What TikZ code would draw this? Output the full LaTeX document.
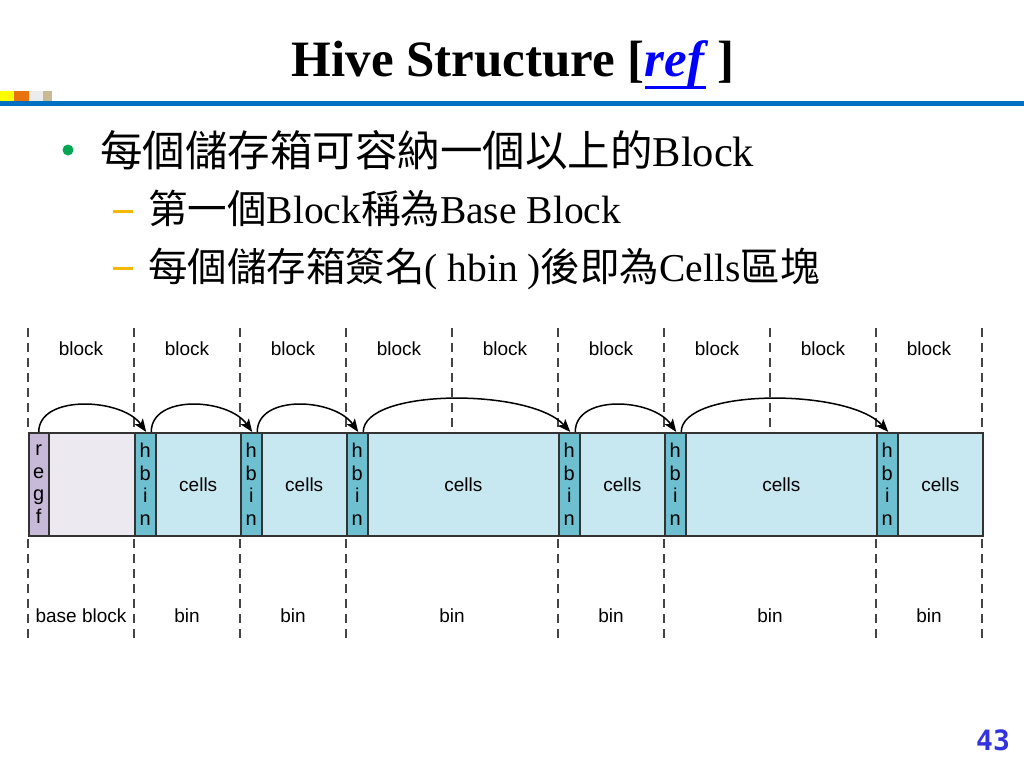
\documentclass[tikz,border=0pt]{standalone}
\usepackage{fontspec}
\setmainfont{Liberation Serif}
\newfontfamily\cjk{Noto Sans CJK TC}
\newfontfamily\dsans{Liberation Sans}
\newfontfamily\pmono{DejaVu Sans Mono}
\usetikzlibrary{arrows.meta}
\definecolor{rulebl}{HTML}{0070C0}
\definecolor{linkbl}{HTML}{0000FF}
\definecolor{sqyel}{HTML}{FFFF00}
\definecolor{sqorg}{HTML}{E8720C}
\definecolor{sqgry}{HTML}{ECECEC}
\definecolor{sqtan}{HTML}{C6BB92}
\definecolor{bulgrn}{HTML}{00A651}
\definecolor{dashor}{HTML}{F5B800}
\definecolor{pgblue}{HTML}{3333DD}
\definecolor{regfc}{HTML}{C6BAD8}
\definecolor{basec}{HTML}{ECE9F1}
\definecolor{hbinc}{HTML}{6EBFD0}
\definecolor{cellc}{HTML}{C8E8F1}
\definecolor{outl}{HTML}{333333}
\definecolor{dashc}{HTML}{444444}
\begin{document}
\begin{tikzpicture}[x=1pt,y=-1pt,
  part/.style={draw=outl, line width=1.5pt, anchor=north west, minimum height=103pt,
    inner sep=0pt, font=\dsans\fontsize{20}{22.5}\selectfont, align=center},
  regfbox/.style={part, fill=regfc, minimum width=20pt},
  basebox/.style={part, fill=basec},
  hbinbox/.style={part, fill=hbinc, minimum width=21pt},
  cellbox/.style={part, fill=cellc, font=\dsans\fontsize{19}{22.5}\selectfont},
  lbl/.style={font=\dsans\fontsize{19}{22}\selectfont, inner sep=0pt},
  sep/.style={draw=dashc, line width=1.7pt, dash pattern=on 9pt off 6pt},
  arc/.style={draw=black, line width=1.5pt, -{Stealth[length=13pt,width=10pt,inset=3pt]}}
]
\useasboundingbox (0,0) rectangle (1024,768);
\fill[white] (0,0) rectangle (1024,768);

% header decoration
\fill[sqyel] (0,91) rectangle (14,101);
\fill[sqorg] (14,91) rectangle (29,101);
\fill[sqgry] (29,91) rectangle (43,101);
\fill[sqtan] (43,91) rectangle (52,101);
\fill[rulebl] (0,101) rectangle (1024,105.5);

% title
\node[anchor=base, inner sep=0pt] (title) at (513,77)
  {\fontsize{51}{55}\selectfont\bfseries Hive Structure [\textcolor{linkbl}{\itshape ref}\hspace{0.25em}]};
\fill[linkbl] (645,86) rectangle (706,88.5);

% bullets
\fill[bulgrn] (68,150) circle (5.5);
\node[anchor=base west, inner sep=0pt] (l1) at (100,166)
  {\fontsize{42.5}{46}\selectfont{\cjk 每個儲存箱可容納一個以上的}Block};
\fill[dashor] (113,209.5) rectangle (133,212.5);
\node[anchor=base west, inner sep=0pt] (l2) at (148,223)
  {\fontsize{39.5}{42}\selectfont{\cjk 第一個}Block{\cjk 稱為}Base Block};
\fill[dashor] (113,266.5) rectangle (133,269.5);
\node[anchor=base west, inner sep=0pt] (l3) at (148,281)
  {\fontsize{39.5}{42}\selectfont{\cjk 每個儲存箱簽名}( hbin ){\cjk 後即為}Cells{\cjk 區塊}};

% page number
\node[inner sep=0pt, text=pgblue] (pg) at (993,740) {\pmono\bfseries\fontsize{28}{30}\selectfont 43};

% bar
\node[regfbox] (regf) at (28,432) {r\\e\\g\\f};
\node[basebox, minimum width=86pt] (base) at (48,432) {};
\node[hbinbox] (hb1) at (134,432) {h\\b\\i\\n};
\node[cellbox, minimum width=85pt] (c1) at (155,432) {cells};
\node[hbinbox] (hb2) at (240,432) {h\\b\\i\\n};
\node[cellbox, minimum width=85pt] (c2) at (261,432) {cells};
\node[hbinbox] (hb3) at (346,432) {h\\b\\i\\n};
\node[cellbox, minimum width=191pt] (c3) at (367,432) {cells};
\node[hbinbox] (hb4) at (558,432) {h\\b\\i\\n};
\node[cellbox, minimum width=85pt] (c4) at (579,432) {cells};
\node[hbinbox] (hb5) at (664,432) {h\\b\\i\\n};
\node[cellbox, minimum width=191pt] (c5) at (685,432) {cells};
\node[hbinbox] (hb6) at (876,432) {h\\b\\i\\n};
\node[cellbox, minimum width=85pt] (c6) at (897,432) {cells};

% dashed separators above the bar (block boundaries)
\foreach \i in {0,...,9}{
  \coordinate (dt\i) at (28+106*\i,328);
  \draw[sep] (dt\i) -- (dt\i |- regf.north);
}
% dashed separators below the bar (bin boundaries)
\foreach \i in {0,1,2,3,5,6,8,9}{
  \coordinate (db\i) at (28+106*\i,638);
  \draw[sep] (db\i) -- (db\i |- regf.south);
}

% block labels
\foreach \i in {0,...,8}{
  \node[lbl] (bk\i) at (81+106*\i,349) {block};
}

% bottom labels
\node[lbl] (bb0) at (81,616) {base block};
\node[lbl] (bb1) at (187,616) {bin};
\node[lbl] (bb2) at (293,616) {bin};
\node[lbl] (bb3) at (452,616) {bin};
\node[lbl] (bb4) at (611,616) {bin};
\node[lbl] (bb5) at (770,616) {bin};
\node[lbl] (bb6) at (929,616) {bin};

% arcs
\draw[arc] (regf.north) .. controls +(0,-38) and +(-24,-34) .. ([xshift=1pt]hb1.north);
\draw[arc] ([xshift=6pt]hb1.north) .. controls +(0,-38) and +(-24,-34) .. ([xshift=1pt]hb2.north);
\draw[arc] ([xshift=6pt]hb2.north) .. controls +(0,-38) and +(-24,-34) .. ([xshift=1pt]hb3.north);
\draw[arc] ([xshift=6pt]hb3.north) .. controls +(0,-44) and +(-40,-44) .. ([xshift=1pt]hb4.north);
\draw[arc] ([xshift=6pt]hb4.north) .. controls +(0,-38) and +(-24,-34) .. ([xshift=1pt]hb5.north);
\draw[arc] ([xshift=6pt]hb5.north) .. controls +(0,-44) and +(-40,-44) .. ([xshift=1pt]hb6.north);
\end{tikzpicture}
\end{document}
